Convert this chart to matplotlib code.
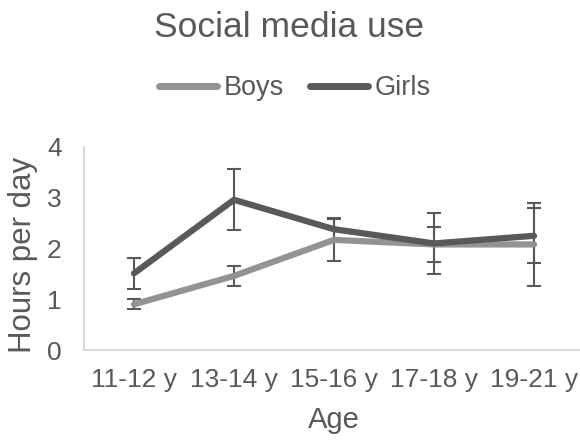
import matplotlib
matplotlib.use("Agg")
import matplotlib.pyplot as plt
import numpy as np

plt.rcParams["font.family"] = ["Liberation Sans", "DejaVu Sans"]

TEXT = "#595959"
BOYS_COLOR = "#939393"
GIRLS_COLOR = "#595959"
SPINE = "#d9d9d9"

age_groups = ["11-12 y", "13-14 y", "15-16 y", "17-18 y", "19-21 y"]
boys_mean = [0.90, 1.46, 2.17, 2.08, 2.08]
boys_err = [0.10, 0.20, 0.42, 0.34, 0.82]
girls_mean = [1.51, 2.96, 2.38, 2.10, 2.25]
girls_err = [0.30, 0.60, 0.23, 0.60, 0.54]

W, H = 580, 443
fig = plt.figure(figsize=(W / 100, H / 100), dpi=100)
# axes box in pixels: x 84..584, y 147..350 (from top)
ax = fig.add_axes([84 / W, (H - 350) / H, 500 / W, 203 / H])

x = np.arange(len(age_groups))
err_style = dict(fmt="none", ecolor=GIRLS_COLOR, elinewidth=1.5, capsize=4.8,
                 capthick=1.5, zorder=1)
ax.errorbar(x, boys_mean, yerr=boys_err, **err_style)
ax.errorbar(x, girls_mean, yerr=girls_err, **err_style)
ax.plot(x, boys_mean, color=BOYS_COLOR, linewidth=4.5, solid_capstyle="round",
        solid_joinstyle="round", label="Boys", zorder=2)
ax.plot(x, girls_mean, color=GIRLS_COLOR, linewidth=4.5, solid_capstyle="round",
        solid_joinstyle="round", label="Girls", zorder=3)

ax.set_xlim(-0.5, 4.5)
ax.set_ylim(0, 4)
ax.set_yticks([0, 1, 2, 3, 4])
ax.set_xticks(x)
ax.set_xticklabels(age_groups)
ax.tick_params(axis="both", length=0, labelsize=19, labelcolor=TEXT)
ax.tick_params(axis="x", pad=13)
ax.tick_params(axis="y", pad=16)
for side in ("top", "right"):
    ax.spines[side].set_visible(False)
for side in ("left", "bottom"):
    ax.spines[side].set_color(SPINE)
    ax.spines[side].set_linewidth(1.5)

ax.set_xlabel("Age", fontsize=21, color=TEXT)
ax.xaxis.set_label_coords(0.5, -0.276)
ax.set_ylabel("Hours per day", fontsize=22.5, color=TEXT)
ax.yaxis.set_label_coords(-0.092, 0.47)

fig.text(0.498, 1 - 37 / H, "Social media use", ha="center", va="baseline",
         fontsize=25.5, color=TEXT)
leg = fig.legend(loc="center", bbox_to_anchor=(0.508, 1 - 88 / H), ncol=2,
                 frameon=False, fontsize=19.5, handlelength=2.15,
                 handletextpad=0.25, columnspacing=0.95)
for line in leg.get_lines():
    line.set_linewidth(5)
for t in leg.get_texts():
    t.set_color(TEXT)

fig.savefig("out.png", dpi=100)
